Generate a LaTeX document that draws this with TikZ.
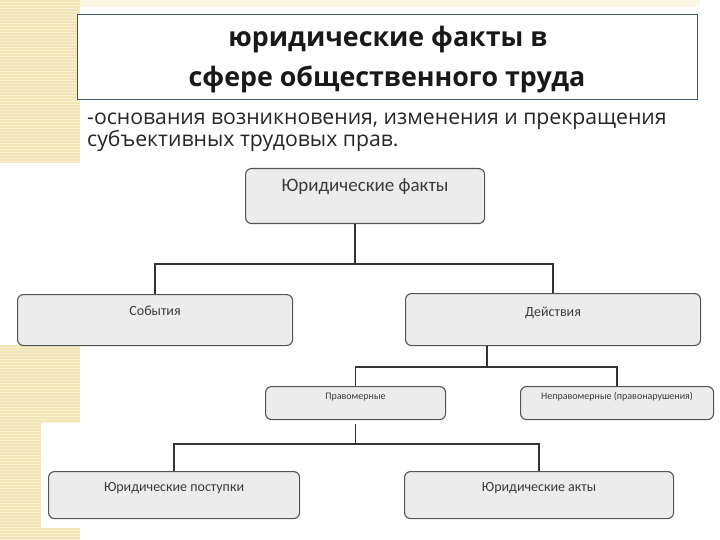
\documentclass[tikz,border=0pt]{standalone}
\usepackage{fontspec}
\setmainfont{Open Sans}
\newfontfamily\boxfont{Carlito}
\usetikzlibrary{positioning,patterns}

\definecolor{stripe}{RGB}{242,228,182}
\definecolor{stripeline}{RGB}{249,240,212}
\definecolor{framecol}{RGB}{62,86,104}
\definecolor{boxfill}{RGB}{236,236,236}
\definecolor{boxline}{RGB}{84,84,84}
\definecolor{boxtext}{RGB}{58,58,58}

\begin{document}
\begin{tikzpicture}[x=1pt,y=-1pt,
  stripebg/.style={fill=stripe, postaction={pattern=horizontal lines, pattern color=stripeline}},
  frame/.style={draw=framecol, line width=0.8pt, fill=white, minimum width=620pt, minimum height=85pt, inner sep=0pt},
  headline/.style={font=\bfseries\fontsize{26.8}{30}\selectfont, text=black!90, anchor=base, inner sep=0pt},
  subline/.style={font=\fontsize{21.2}{24}\selectfont, text=black!85, anchor=base west, inner sep=0pt},
  box/.style={draw=boxline, fill=boxfill, line width=1.1pt, rounded corners=6pt, anchor=north west, inner sep=0pt},
  boxlabel/.style={font=\boxfont, text=boxtext, anchor=base, inner sep=0pt},
  conn/.style={draw=black!80, line width=1.4pt}
]

\useasboundingbox (0,0) rectangle (720,540);

% left stripe
\path[stripebg] (0,0) rectangle (80,163);
\path[stripebg] (0,345) rectangle (80,423);
\path[stripebg] (0,423) rectangle (41,528);
\path[stripebg] (0,528) rectangle (80,540);
\fill[stripeline!60!white] (80,0) rectangle (700,7);

% heading
\node[frame] (head) at (387,56.5) {};
\node[headline] (head_a) at (388,47) {юридические факты в};
\node[headline] (head_b) at (387,87) {сфере общественного труда};

\node[subline] (sub_a) at (87,125) {-основания возникновения, изменения и прекращения};
\node[subline] (sub_b) at (87,147) {субъективных трудовых прав.};

% boxes
\node[box, minimum width=239pt, minimum height=55pt] (facts) at (245,168) {};
\node[box, minimum width=275pt, minimum height=51pt] (events) at (17,294) {};
\node[box, minimum width=295pt, minimum height=52pt] (actions) at (405,293) {};
\node[box, minimum width=180pt, minimum height=33pt] (lawful) at (265,386) {};
\node[box, minimum width=193pt, minimum height=33pt] (unlawful) at (520,386) {};
\node[box, minimum width=251pt, minimum height=47pt] (deeds) at (48,471) {};
\node[box, minimum width=269pt, minimum height=47pt] (acts) at (404,471) {};

% box texts
\node[boxlabel, font=\boxfont\fontsize{19}{22}\selectfont] (facts_txt) at ([yshift=-24pt]facts.north) {Юридические факты};
\node[boxlabel, font=\boxfont\fontsize{14}{16}\selectfont] (events_txt) at ([yshift=-21pt]events.north) {События};
\node[boxlabel, font=\boxfont\fontsize{14}{16}\selectfont] (actions_txt) at ([yshift=-23pt]actions.north) {Действия};
\node[boxlabel, font=\boxfont\fontsize{10}{12}\selectfont] (lawful_txt) at ([yshift=-13pt]lawful.north) {Правомерные};
\node[boxlabel, font=\boxfont\fontsize{10}{12}\selectfont] (unlawful_txt) at ([yshift=-13pt]unlawful.north) {Неправомерные (правонарушения)};
\node[boxlabel, font=\boxfont\fontsize{14}{16}\selectfont] (deeds_txt) at ([yshift=-20pt]deeds.north) {Юридические поступки};
\node[boxlabel, font=\boxfont\fontsize{14}{16}\selectfont] (acts_txt) at ([yshift=-20pt]acts.north) {Юридические акты};

% connectors
\draw[conn] ([xshift=-10pt]facts.south) -- ++(0,40) coordinate (bus_a);
\draw[conn] (events.north) |- (bus_a) -| (actions.north);

\draw[conn] ([xshift=-66pt]actions.south) -- ++(0,21) coordinate (bus_b);
\draw[conn] (lawful.north) |- (bus_b) -| (unlawful.north);

\draw[conn] ([yshift=-4pt]lawful.south) -- ++(0,20) coordinate (bus_c);
\draw[conn] (deeds.north) |- (bus_c) -| (acts.north);

\end{tikzpicture}
\end{document}
